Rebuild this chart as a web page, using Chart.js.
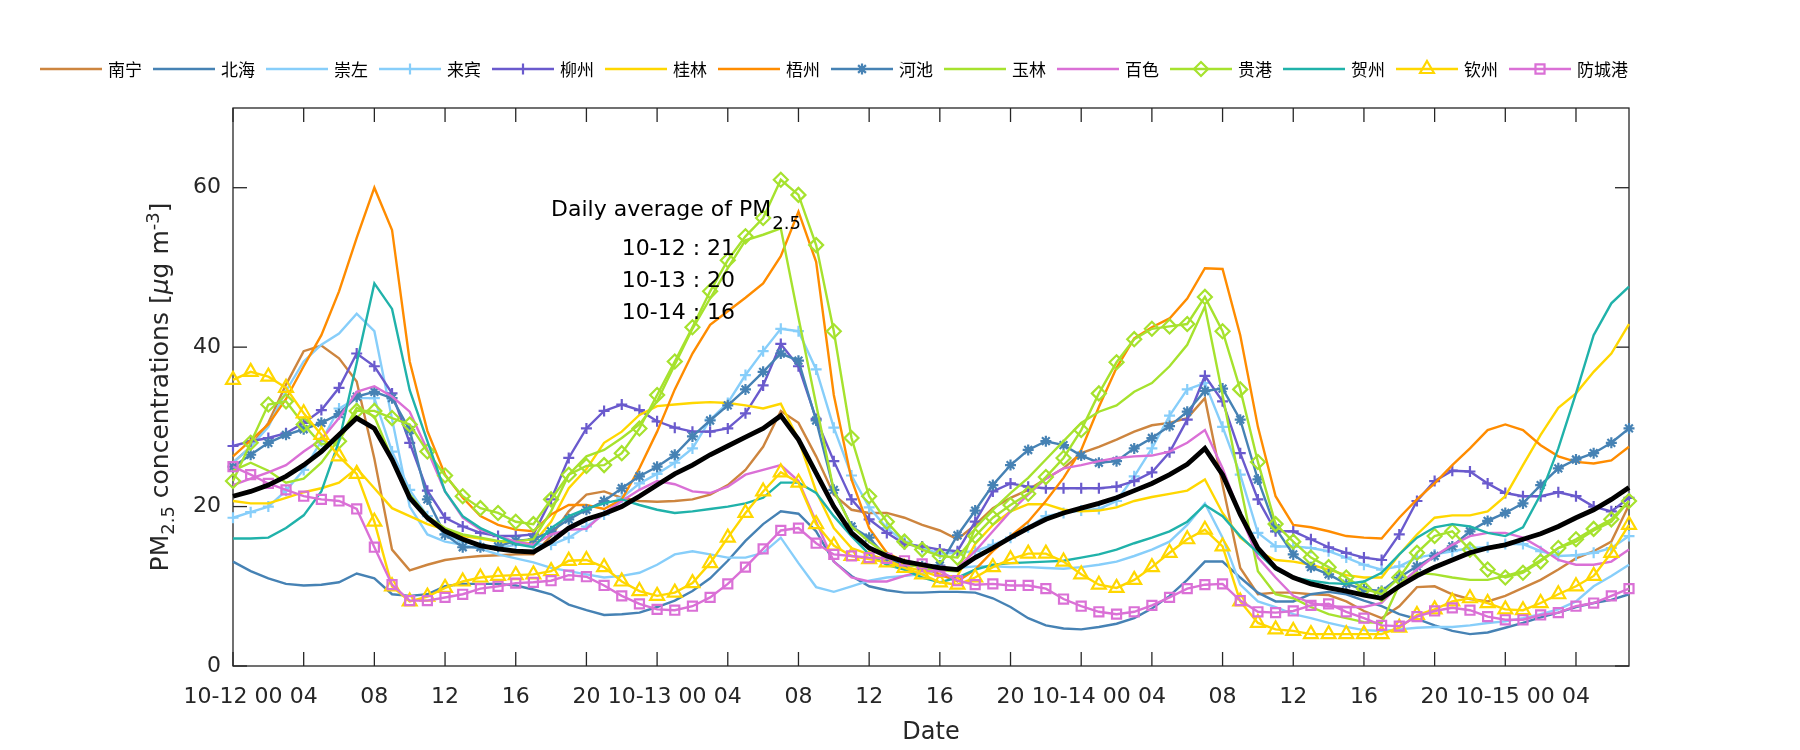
<!DOCTYPE html>
<html>
<head>
<meta charset="utf-8">
<title>PM2.5 hourly concentrations</title>
<script src="https://cdn.jsdelivr.net/npm/chart.js@4.4.0/dist/chart.umd.min.js"></script>
<style>
body{margin:0;background:#fff;}
</style>
</head>
<body>
<canvas id="myChart" width="1800" height="750"></canvas>
<script>
// x axis: hourly steps starting 10-12 00:00
var days = ['10-12', '10-13', '10-14', '10-15'];
var nHours = 80;

var cities = ['南宁', '北海', '崇左', '来宾', '柳州', '桂林', '梧州', '河池', '玉林', '百色', '贵港', '贺州', '钦州', '防城港'];

// values, h0-20 / h21-40 / h41-59 / h60-79
var nanning = [25.5, 27.5, 30.5, 35.3, 39.5, 40.2, 38.6, 35.7, 26.0, 14.6, 12.0, 12.7, 13.3, 13.6, 13.8, 13.9, 14.0, 14.0, 16.3, 19.4, 21.5,
  21.9, 21.1, 20.7, 20.6, 20.7, 20.9, 21.5, 22.7, 24.6, 27.5, 32.0, 30.5, 26.3, 21.5, 19.6, 19.2, 19.2, 18.6, 17.7, 17.0,
  15.9, 17.7, 19.8, 21.1, 22.1, 23.5, 24.8, 26.7, 27.5, 28.4, 29.4, 30.2, 30.5, 31.1, 33.6, 22.7, 12.3, 9.0, 9.2,
  9.2, 9.0, 8.9, 8.1, 6.9, 6.0, 7.5, 9.9, 10.0, 9.0, 8.4, 8.1, 8.8, 9.8, 10.8, 12.1, 13.5, 14.4, 15.6, 20.2];
var beihai = [13.1, 11.9, 11.0, 10.3, 10.1, 10.2, 10.5, 11.6, 11.0, 9.0, 8.8, 9.0, 10.0, 10.3, 10.3, 10.3, 10.1, 9.6, 9.0, 7.7, 7.0,
  6.4, 6.5, 6.7, 7.4, 8.2, 9.4, 11.0, 13.2, 15.7, 17.8, 19.4, 19.1, 16.9, 13.1, 11.3, 10.0, 9.5, 9.2, 9.2, 9.3,
  9.3, 9.2, 8.5, 7.4, 6.0, 5.1, 4.7, 4.6, 4.9, 5.3, 6.0, 7.2, 8.8, 10.8, 13.1, 13.1, 11.1, 9.2, 8.1,
  8.1, 9.0, 9.3, 9.0, 8.2, 7.5, 6.5, 5.9, 5.1, 4.4, 4.0, 4.2, 4.8, 5.4, 6.1, 6.7, 7.4, 7.9, 8.3, 9.0];
var chongzuo = [25.5, 27.5, 30.0, 34.5, 38.2, 40.3, 41.7, 44.2, 42.0, 31.0, 20.0, 16.5, 15.6, 15.2, 14.7, 14.0, 13.5, 13.0, 12.3, 11.9, 11.5,
  11.1, 11.3, 11.7, 12.7, 14.0, 14.4, 14.0, 13.6, 13.6, 14.2, 16.1, 12.9, 9.9, 9.3, 10.0, 10.7, 11.1, 11.3, 11.5, 12.0,
  12.3, 12.5, 12.5, 12.4, 12.4, 12.3, 12.2, 12.4, 12.7, 13.1, 13.8, 14.6, 15.6, 17.7, 20.4, 16.1, 10.2, 8.1, 7.4,
  6.5, 6.0, 5.4, 4.9, 4.5, 4.4, 4.6, 4.8, 4.9, 4.9, 5.1, 5.4, 5.6, 6.0, 6.5, 7.1, 8.1, 10.0, 11.3, 12.7];
var laibin = [18.6, 19.3, 20.0, 22.0, 24.6, 28.2, 32.3, 33.6, 33.6, 26.9, 22.1, 18.8, 16.5, 15.6, 15.2, 14.8, 15.2, 15.3, 15.2, 16.1, 17.5,
  19.0, 21.1, 22.9, 24.1, 25.5, 27.3, 30.9, 33.0, 36.5, 39.5, 42.3, 42.0, 37.2, 29.9, 23.9, 19.9, 17.3, 15.6, 14.8, 14.1,
  14.2, 14.4, 15.2, 16.1, 17.4, 18.8, 19.2, 19.5, 19.7, 20.7, 23.8, 27.3, 31.4, 34.7, 35.5, 30.0, 24.0, 16.7, 15.0,
  15.0, 14.8, 14.4, 13.6, 12.7, 12.1, 12.5, 13.6, 14.0, 14.4, 14.8, 14.9, 15.3, 15.3, 14.4, 13.8, 13.9, 14.2, 14.8, 16.3];
var liuzhou = [27.6, 28.2, 28.6, 29.2, 30.5, 32.1, 34.9, 39.2, 37.6, 34.2, 28.0, 22.0, 18.6, 17.5, 16.7, 16.3, 16.3, 16.5, 20.9, 26.1, 29.8,
  32.0, 32.8, 32.1, 30.7, 29.9, 29.4, 29.4, 29.8, 31.7, 35.2, 40.4, 37.6, 31.0, 25.7, 20.9, 18.4, 16.7, 15.3, 15.0, 14.6,
  14.4, 18.1, 21.9, 22.9, 22.5, 22.3, 22.3, 22.3, 22.3, 22.5, 23.2, 24.3, 26.8, 30.9, 36.4, 33.2, 26.7, 20.9, 16.9,
  16.9, 15.9, 14.9, 14.2, 13.6, 13.3, 16.5, 20.7, 23.2, 24.5, 24.4, 22.9, 21.7, 21.3, 21.3, 21.8, 21.3, 20.0, 19.4, 21.1];
var guilin = [20.7, 20.4, 20.4, 21.1, 21.8, 22.3, 23.0, 24.8, 22.3, 19.8, 18.8, 17.8, 17.1, 16.3, 16.0, 15.6, 15.4, 15.4, 18.1, 22.3, 24.7,
  28.0, 29.4, 31.5, 32.6, 32.8, 33.0, 33.1, 33.0, 32.7, 32.3, 32.9, 28.4, 21.9, 17.3, 14.8, 14.0, 13.3, 12.5, 11.9, 11.2,
  11.3, 15.3, 17.7, 19.4, 20.3, 20.3, 19.6, 19.4, 19.5, 19.9, 20.7, 21.2, 21.6, 22.0, 23.4, 19.2, 16.1, 14.4, 13.3,
  13.1, 12.7, 12.1, 11.4, 11.1, 11.1, 14.0, 16.5, 18.6, 18.9, 18.9, 19.4, 21.3, 25.2, 29.0, 32.4, 34.2, 36.9, 39.2, 42.9];
var wuzhou = [26.3, 28.3, 30.3, 33.5, 37.6, 41.5, 47.0, 53.7, 60.0, 54.7, 38.2, 29.5, 24.0, 21.1, 18.8, 17.7, 17.1, 16.9, 19.0, 20.2, 20.2,
  19.7, 20.9, 24.8, 29.4, 34.7, 39.2, 42.8, 44.5, 46.2, 48.0, 51.4, 57.0, 50.7, 34.0, 23.4, 17.3, 14.2, 13.1, 12.5, 11.5,
  10.6, 12.1, 14.4, 16.3, 18.1, 20.7, 23.6, 27.1, 32.5, 37.4, 41.1, 42.5, 43.6, 46.1, 49.9, 49.8, 41.5, 30.0, 21.3,
  17.7, 17.4, 16.9, 16.3, 16.1, 16.0, 18.6, 20.9, 22.9, 25.2, 27.3, 29.6, 30.3, 29.6, 27.7, 26.3, 25.6, 25.4, 25.8, 27.5];
var hechi = [25.0, 26.5, 28.0, 29.0, 29.7, 30.5, 31.6, 33.8, 34.4, 33.6, 29.6, 20.9, 16.5, 14.9, 14.9, 15.0, 15.7, 15.9, 16.9, 18.4, 19.6,
  20.7, 22.3, 23.8, 25.0, 26.5, 28.8, 30.8, 32.7, 34.7, 36.9, 39.2, 38.3, 30.8, 22.1, 17.5, 16.1, 13.6, 12.7, 12.5, 12.6,
  16.4, 19.5, 22.7, 25.2, 27.1, 28.2, 27.7, 26.4, 25.5, 25.7, 27.3, 28.6, 30.1, 31.9, 34.5, 34.8, 30.9, 23.4, 17.3,
  14.0, 12.4, 11.5, 10.3, 9.6, 9.4, 11.1, 12.5, 13.8, 15.0, 16.9, 18.2, 19.2, 20.4, 22.7, 24.8, 25.9, 26.7, 28.0, 29.8];
var yulin = [24.5, 25.5, 24.5, 23.0, 23.5, 25.5, 28.5, 32.4, 31.3, 26.0, 21.5, 18.8, 17.3, 16.5, 16.1, 15.7, 15.6, 15.9, 19.4, 24.0, 26.3,
  27.1, 28.6, 30.3, 33.2, 37.8, 42.3, 46.1, 49.9, 53.4, 54.1, 54.9, 43.7, 32.8, 22.0, 17.5, 15.6, 14.0, 12.9, 12.3, 12.0,
  11.9, 17.3, 19.6, 21.7, 23.6, 25.9, 28.2, 30.5, 31.9, 32.7, 34.4, 35.5, 37.6, 40.3, 45.1, 34.0, 22.7, 11.9, 9.0,
  8.5, 7.4, 6.5, 6.0, 5.5, 5.4, 10.2, 11.7, 11.5, 11.1, 10.8, 10.8, 11.3, 11.9, 13.3, 14.8, 15.6, 17.0, 18.1, 20.7];
var baise = [22.7, 23.5, 24.3, 25.2, 26.9, 28.4, 31.1, 34.4, 35.1, 33.8, 31.9, 27.1, 21.9, 18.6, 17.1, 16.3, 15.6, 15.2, 16.5, 17.1, 17.2,
  19.2, 20.7, 22.1, 23.2, 22.8, 21.9, 21.7, 22.5, 24.0, 24.6, 25.2, 23.2, 18.1, 13.1, 11.1, 10.6, 10.6, 11.3, 11.9, 11.9,
  12.3, 14.4, 16.9, 19.4, 21.5, 23.5, 24.8, 25.2, 25.7, 26.1, 26.3, 26.4, 26.9, 28.0, 29.6, 24.8, 19.0, 13.6, 11.1,
  8.8, 7.9, 7.5, 7.4, 7.4, 7.9, 10.2, 12.1, 13.8, 15.2, 16.3, 16.7, 16.7, 16.1, 14.8, 13.3, 12.7, 12.7, 13.1, 14.6];
var guigang = [23.2, 28.0, 32.8, 33.2, 30.3, 27.8, 28.2, 32.0, 32.0, 31.1, 30.3, 26.9, 23.9, 21.3, 19.8, 19.2, 18.1, 17.8, 20.9, 24.0, 25.1,
  25.2, 26.7, 29.8, 34.0, 38.2, 42.5, 47.0, 50.9, 53.9, 56.2, 61.0, 59.1, 52.8, 42.0, 28.6, 21.3, 18.1, 15.6, 14.6, 13.8,
  13.6, 16.3, 18.6, 20.2, 21.6, 23.7, 26.1, 29.6, 34.2, 38.1, 41.0, 42.3, 42.6, 42.9, 46.3, 42.0, 34.7, 25.6, 17.8,
  15.6, 13.6, 12.4, 11.1, 9.7, 9.0, 11.1, 14.2, 16.3, 16.9, 14.6, 12.1, 11.1, 11.7, 13.1, 14.8, 15.9, 17.2, 18.4, 20.7];
var hezhou = [16.0, 16.0, 16.1, 17.3, 18.9, 21.9, 28.2, 38.0, 48.0, 44.8, 34.6, 28.2, 21.9, 18.8, 17.3, 16.3, 15.3, 14.9, 17.3, 18.8, 19.7,
  20.4, 20.9, 20.2, 19.6, 19.2, 19.4, 19.7, 20.0, 20.4, 21.1, 23.0, 23.0, 21.7, 18.8, 16.3, 14.0, 12.7, 12.1, 11.1, 10.5,
  11.1, 12.1, 12.7, 12.9, 13.0, 13.1, 13.2, 13.6, 14.0, 14.6, 15.4, 16.1, 16.9, 18.1, 20.2, 18.8, 16.3, 14.2, 12.1,
  11.1, 10.7, 10.4, 10.3, 10.6, 11.7, 14.0, 16.1, 17.4, 17.8, 17.5, 16.7, 16.3, 17.4, 21.5, 27.3, 34.2, 41.5, 45.5, 47.6];
var qinzhou = [35.9, 36.9, 36.3, 34.9, 31.7, 29.0, 26.3, 24.1, 18.1, 10.0, 8.1, 8.7, 9.8, 10.6, 11.1, 11.3, 11.4, 11.5, 11.9, 13.2, 13.3,
  12.4, 10.6, 9.4, 8.8, 9.2, 10.4, 12.9, 16.1, 19.2, 21.9, 24.3, 23.0, 17.8, 15.1, 13.8, 13.4, 13.0, 12.3, 11.5, 10.5,
  10.2, 11.1, 12.4, 13.4, 14.1, 14.1, 13.1, 11.5, 10.2, 9.8, 10.8, 12.4, 14.2, 15.9, 17.1, 15.0, 8.1, 5.4, 4.6,
  4.4, 4.0, 4.0, 4.0, 4.0, 4.0, 4.8, 6.4, 7.1, 8.1, 8.5, 7.9, 7.1, 7.0, 7.9, 9.0, 10.0, 11.3, 14.2, 17.7];
var fangchenggang = [25.0, 24.0, 22.9, 22.1, 21.3, 20.9, 20.7, 19.7, 14.9, 10.2, 8.2, 8.2, 8.6, 9.0, 9.7, 10.0, 10.4, 10.5, 10.7, 11.4, 11.2,
  10.1, 8.8, 7.8, 7.1, 7.0, 7.5, 8.6, 10.3, 12.4, 14.7, 17.0, 17.3, 15.4, 14.0, 13.8, 13.6, 13.5, 13.2, 12.8, 11.9,
  10.7, 10.2, 10.3, 10.1, 10.1, 9.7, 8.4, 7.5, 6.8, 6.5, 6.8, 7.6, 8.6, 9.7, 10.2, 10.3, 8.2, 6.8, 6.7,
  6.9, 7.6, 7.8, 6.8, 6.0, 5.1, 5.0, 6.2, 6.9, 7.3, 7.0, 6.2, 5.8, 5.8, 6.4, 6.7, 7.5, 7.9, 8.8, 9.7];
// regional mean (thick black line)
var average = [21.3, 21.9, 22.7, 23.8, 25.2, 26.9, 29.0, 31.1, 29.8, 25.9, 21.1, 18.6, 16.9, 15.9, 15.1, 14.7, 14.4, 14.3, 15.6, 17.3, 18.4,
  19.1, 20.0, 21.3, 22.7, 24.1, 25.2, 26.5, 27.6, 28.7, 29.8, 31.4, 28.4, 24.2, 20.0, 16.7, 14.8, 13.8, 13.1, 12.7, 12.3,
  12.1, 13.6, 14.8, 16.1, 17.3, 18.4, 19.2, 19.8, 20.4, 21.1, 22.0, 22.9, 24.0, 25.3, 27.3, 24.0, 19.0, 14.8, 12.3,
  11.1, 10.3, 9.8, 9.4, 8.9, 8.5, 10.0, 11.3, 12.4, 13.3, 14.2, 14.8, 15.2, 15.9, 16.6, 17.5, 18.6, 19.6, 20.9, 22.4];

var dailyDays = ['10-12', '10-13', '10-14'];
var dailyMeans = [21, 20, 16];

var series = [nanning, beihai, chongzuo, laibin, liuzhou, guilin, wuzhou, hechi, yulin, baise, guigang, hezhou, qinzhou, fangchenggang];
var colors = ['#CD853F', '#4682B4', '#87CEFA', '#87CEFA', '#6A5ACD', '#FFD700', '#FF8C00', '#4682B4', '#A6E22E', '#DA70D6', '#A6E22E', '#20B2AA', '#FFD700', '#DA70D6'];
var markers = [null, null, null, 'cross', 'cross', null, null, 'star', null, null, 'rectRot', null, 'triangle', 'rect'];
var markerSize = [0, 0, 0, 5.5, 5.5, 0, 0, 5.5, 0, 0, 7, 0, 8, 6.4];

var hourLabels = [];
var tickLabels = [];
for (var h = 0; h < nHours; h++) {
    hourLabels.push(h);
    var hh = h % 24;
    if (hh === 0) tickLabels.push(days[h / 24] + ' 00');
    else if (hh % 4 === 0) tickLabels.push((hh < 10 ? '0' : '') + hh);
    else tickLabels.push('');
}

var txtFont = "'DejaVu Sans', sans-serif";
var cjkFont = "'Noto Sans CJK SC', sans-serif";
var axisColor = '#262626';

var datasets = [];
for (var i = 0; i < cities.length; i++) {
    datasets.push({
        label: cities[i],
        data: series[i],
        borderColor: colors[i],
        borderWidth: 2.4,
        pointStyle: markers[i] || 'circle',
        pointRadius: markerSize[i],
        pointBorderColor: colors[i],
        pointBackgroundColor: 'rgba(0,0,0,0)',
        pointBorderWidth: 2.2,
        tension: 0,
        order: cities.length + 1 - i
    });
}
datasets.push({
    label: 'mean',
    data: average,
    borderColor: '#000000',
    borderWidth: 4.8,
    pointRadius: 0,
    tension: 0,
    order: 0
});

function line(ctx, x1, y1, x2, y2) {
    ctx.beginPath();
    ctx.moveTo(x1, y1);
    ctx.lineTo(x2, y2);
    ctx.stroke();
}

// box + inward ticks on all four sides
var frame = {
    id: 'frame',
    beforeDatasetsDraw: function(chart) {
        var ctx = chart.ctx, a = chart.chartArea;
        var xs = chart.scales.x, ys = chart.scales.y;
        ctx.save();
        ctx.strokeStyle = axisColor;
        ctx.lineWidth = 1.3;
        for (var i = 0; i < nHours; i += 4) {
            var px = xs.getPixelForValue(i);
            line(ctx, px, a.bottom, px, a.bottom - 14);
            line(ctx, px, a.top, px, a.top + 14);
        }
        ys.ticks.forEach(function(t) {
            var py = ys.getPixelForValue(t.value);
            line(ctx, a.left, py, a.left + 14, py);
            line(ctx, a.right, py, a.right - 14, py);
        });
        ctx.strokeRect(a.left, a.top, a.right - a.left, a.bottom - a.top);
        ctx.restore();
    }
};

// legend row, axis titles and the daily average note
var texts = {
    id: 'texts',
    afterDraw: function(chart) {
        var ctx = chart.ctx, a = chart.chartArea;
        var xs = chart.scales.x, ys = chart.scales.y;
        ctx.save();

        // legend
        var lx = 40, ly = 69;
        ctx.font = '17px ' + cjkFont;
        ctx.textBaseline = 'middle';
        ctx.textAlign = 'left';
        for (var i = 0; i < cities.length; i++) {
            ctx.strokeStyle = colors[i];
            ctx.lineWidth = 2.4;
            line(ctx, lx, ly, lx + 62, ly);
            if (markers[i] && Chart.helpers && Chart.helpers.drawPoint) {
                ctx.fillStyle = 'rgba(0,0,0,0)';
                ctx.lineWidth = 2.2;
                Chart.helpers.drawPoint(ctx, {pointStyle: markers[i], radius: markerSize[i], rotation: 0, borderWidth: 2.2}, lx + 31, ly);
            }
            ctx.fillStyle = '#000';
            ctx.fillText(cities[i], lx + 68, ly + 1);
            lx += 62 + 6 + ctx.measureText(cities[i]).width + 11;
        }

        // x title
        ctx.fillStyle = axisColor;
        ctx.font = '24px ' + txtFont;
        ctx.textAlign = 'center';
        ctx.textBaseline = 'alphabetic';
        ctx.fillText('Date', (a.left + a.right) / 2, 739);

        // y title, rotated, with sub/superscript
        var parts = [['PM', 25, 0, ''], ['2.5', 18, 6, ''], [' concentrations [', 25, 0, ''], ['\u03bc', 25, 0, 'italic '],
                     ['g m', 25, 0, ''], ['-3', 18, -9, ''], [']', 25, 0, '']];
        var total = 0;
        parts.forEach(function(p) { ctx.font = p[3] + p[1] + 'px ' + txtFont; p.push(ctx.measureText(p[0]).width); total += p[4]; });
        ctx.translate(161, (a.top + a.bottom) / 2);
        ctx.rotate(-Math.PI / 2);
        ctx.textAlign = 'left';
        var tx = -total / 2;
        parts.forEach(function(p) {
            ctx.font = p[3] + p[1] + 'px ' + txtFont;
            ctx.fillText(p[0], tx, 7 + p[2]);
            tx += p[4];
        });
        ctx.setTransform(1, 0, 0, 1, 0, 0);

        // daily averages note
        ctx.fillStyle = '#000';
        ctx.font = '22px ' + txtFont;
        var nx = xs.getPixelForValue(18), ny = ys.getPixelForValue(56.5);
        ctx.fillText('Daily average of PM', nx, ny);
        var w = ctx.measureText('Daily average of PM').width;
        ctx.font = '18px ' + txtFont;
        ctx.fillText('2.5', nx + w + 1, ny + 13);
        ctx.font = '22px ' + txtFont;
        var dx = xs.getPixelForValue(22);
        for (var k = 0; k < dailyDays.length; k++) {
            ctx.fillText(dailyDays[k] + ' : ' + dailyMeans[k], dx, ny + 39 + k * 32);
        }
        ctx.restore();
    }
};

var ctxP = document.getElementById('myChart').getContext('2d');
var myLineChart = new Chart(ctxP, {
    type: 'line',
    data: {
        labels: hourLabels,
        datasets: datasets
    },
    options: {
        responsive: false,
        devicePixelRatio: 1,
        animation: false,
        events: [],
        layout: {
            autoPadding: false,
            padding: {left: 0, right: 171, top: 108, bottom: 0}
        },
        plugins: {
            legend: {display: false},
            tooltip: {enabled: false}
        },
        scales: {
            x: {
                type: 'category',
                offset: false,
                grid: {display: false, drawTicks: false},
                border: {display: false},
                ticks: {
                    autoSkip: false,
                    maxRotation: 0,
                    minRotation: 0,
                    padding: 18,
                    color: axisColor,
                    font: {family: txtFont, size: 22},
                    callback: function(v, i) { return tickLabels[i]; }
                },
                afterFit: function(scale) { scale.height = 84; }
            },
            y: {
                min: 0,
                max: 70,
                grid: {display: false, drawTicks: false},
                border: {display: false},
                ticks: {
                    stepSize: 20,
                    includeBounds: false,
                    padding: 12,
                    color: axisColor,
                    font: {family: txtFont, size: 22}
                },
                afterFit: function(scale) { scale.width = 233; }
            }
        }
    },
    plugins: [frame, texts]
});
</script>
</body>
</html>
